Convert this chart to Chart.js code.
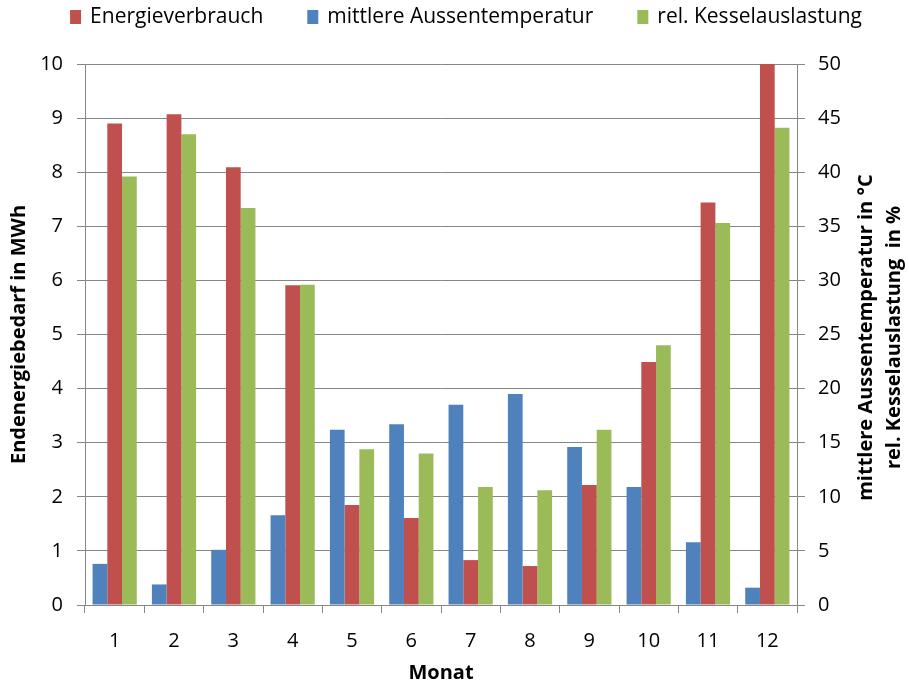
<!DOCTYPE html>
<html><head><meta charset="utf-8">
<script src="https://cdn.jsdelivr.net/npm/chart.js@4.4.1/dist/chart.umd.min.js"></script>
<style>html,body{margin:0;padding:0;background:#fff}#wrap{width:909px;height:687px}</style>
</head><body><div id="wrap"><canvas id="c" width="909" height="687"></canvas></div>
<script>
const months = ['1','2','3','4','5','6','7','8','9','10','11','12'];
const energy = [8.90, 9.07, 8.09, 5.91, 1.85, 1.61, 0.83, 0.72, 2.22, 4.49, 7.44, 10.0];
const temperature = [3.8, 1.9, 5.1, 8.3, 16.2, 16.7, 18.5, 19.5, 14.6, 10.9, 5.8, 1.6];
const utilization = [39.6, 43.5, 36.7, 29.6, 14.4, 14.0, 10.9, 10.6, 16.2, 24.0, 35.3, 44.1];
const leftTicks = [0,1,2,3,4,5,6,7,8,9,10];
const rightTicks = [0,5,10,15,20,25,30,35,40,45,50];
const seriesNames = ['Energieverbrauch', 'mittlere Aussentemperatur', 'rel. Kesselauslastung'];
const leftTitle = 'Endenergiebedarf in MWh';
const rightTitleLines = ['mittlere Aussentemperatur in °C', 'rel. Kesselauslastung  in %'];
const xTitle = 'Monat';

const RED = '#C0504D', BLUE = '#4F81BD', GREEN = '#9BBB59', GRID = '#868686';
const FONT = '"Open Sans", sans-serif';

const legendPlugin = {
  id: 'customLegend',
  afterDraw(chart) {
    const ctx = chart.ctx;
    ctx.save();
    ctx.font = '21px ' + FONT;
    ctx.textBaseline = 'middle';
    ctx.fillStyle = '#000';
    const items = [
      {label: seriesNames[0], color: RED},
      {label: seriesNames[1], color: BLUE},
      {label: seriesNames[2], color: GREEN}
    ];
    const boxW = 11, boxH = 14, gapText = 9, gapItem = 44;
    let total = 0;
    items.forEach((it, i) => { it.w = ctx.measureText(it.label).width; total += boxW + gapText + it.w + (i < items.length - 1 ? gapItem : 0); });
    let x = 466 - total / 2;
    const cy = 17;
    items.forEach(it => {
      ctx.fillStyle = it.color;
      ctx.fillRect(x, cy - boxH / 2, boxW, boxH);
      ctx.fillStyle = '#000';
      ctx.fillText(it.label, x + boxW + gapText, cy);
      x += boxW + gapText + it.w + gapItem;
    });
    // right axis title, rotated reading bottom to top
    const ca = chart.chartArea;
    const cyT = (ca.top + ca.bottom) / 2 + 3;
    ctx.font = 'bold 20px ' + FONT;
    ctx.textAlign = 'center';
    const xs = [866, 894];
    rightTitleLines.forEach((t, i) => {
      ctx.save();
      ctx.translate(xs[i], cyT);
      ctx.rotate(-Math.PI / 2);
      ctx.fillText(t, 0, 0);
      ctx.restore();
    });
    ctx.restore();
  }
};

new Chart(document.getElementById('c'), {
  type: 'bar',
  data: {
    labels: months,
    datasets: [
      {label: seriesNames[1], data: temperature, backgroundColor: BLUE, yAxisID: 'y1'},
      {label: seriesNames[0], data: energy, backgroundColor: RED, yAxisID: 'y'},
      {label: seriesNames[2], data: utilization, backgroundColor: GREEN, yAxisID: 'y1'}
    ]
  },
  options: {
    responsive: false,
    animation: false,
    devicePixelRatio: 1,
    layout: {padding: {top: 64, left: 0, right: 0, bottom: 0}},
    datasets: {bar: {categoryPercentage: 0.745, barPercentage: 1.0, borderWidth: 0}},
    plugins: {legend: {display: false}, tooltip: {enabled: false}},
    scales: {
      x: {
        offset: true,
        grid: {display: true, drawOnChartArea: false, drawTicks: true, tickLength: 8, color: GRID, offset: true},
        border: {color: GRID, width: 1},
        ticks: {color: '#000', font: {family: FONT, size: 20}, padding: 16, maxRotation: 0},
        title: {display: true, text: xTitle, color: '#000', font: {family: FONT, size: 20, weight: 'bold'}, padding: {top: 0, bottom: 2}},
        afterFit(s) { s.height = 82; }
      },
      y: {
        position: 'left',
        min: 0, max: 10,
        afterBuildTicks(s) { s.ticks = leftTicks.map(v => ({value: v})); },
        grid: {color: GRID, tickLength: 8, lineWidth: 1},
        border: {color: GRID, width: 1},
        ticks: {color: '#000', font: {family: FONT, size: 20}, padding: 14},
        title: {display: true, text: leftTitle, color: '#000', font: {family: FONT, size: 20, weight: 'bold'}, padding: {top: 7, bottom: 0}},
        afterFit(s) { s.width = 85; }
      },
      y1: {
        position: 'right',
        min: 0, max: 50,
        afterBuildTicks(s) { s.ticks = rightTicks.map(v => ({value: v})); },
        grid: {drawOnChartArea: false, color: GRID, tickLength: 8},
        border: {color: GRID, width: 1},
        ticks: {color: '#000', font: {family: FONT, size: 20}, padding: 13},
        afterFit(s) { s.width = 112; }
      }
    }
  },
  plugins: [legendPlugin]
});
</script>
</body></html>
